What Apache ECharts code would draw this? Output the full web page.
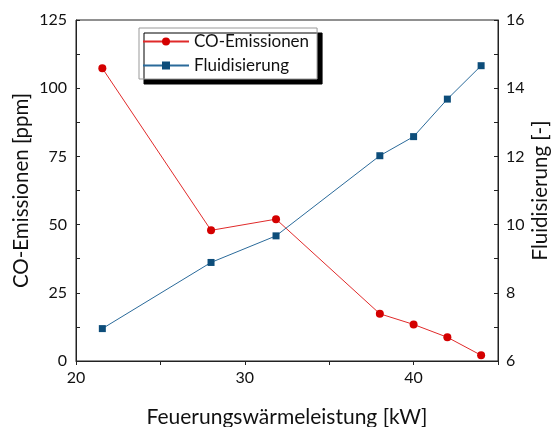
<!DOCTYPE html>
<html><head><meta charset="utf-8">
<script src="https://cdn.jsdelivr.net/npm/echarts@6/dist/echarts.min.js"></script>
<style>html,body{margin:0;padding:0;background:#fff}#c{width:552px;height:427px}</style>
</head><body><div id="c"></div>
<script>
const leistung = [21.56, 28, 31.85, 38, 40, 42, 44];
const coEmissionen = [107.3, 47.9, 52.0, 17.3, 13.4, 8.7, 2.1];
const fluidisierung = [6.95, 8.89, 9.67, 12.02, 12.58, 13.68, 14.66];
const xTickLabels = [20, 30, 40];
const yLeftTickLabels = [0, 25, 50, 75, 100, 125];
const yRightTickLabels = [6, 8, 10, 12, 14, 16];

const FONT = 'Lato';
const AX = '#222';
const chart = echarts.init(document.getElementById('c'), null, {renderer: 'canvas'});
chart.setOption({
  animation: false,
  textStyle: {fontFamily: FONT},
  grid: {left: 76, right: 54, top: 20, bottom: 66, show: true, borderColor: AX, borderWidth: 1,
         containLabel: false, outerBoundsMode: 'none'},
  legend: {
    orient: 'vertical', left: 139, top: 28, padding: [5, 8, 5, 3],
    itemWidth: 46, itemHeight: 10, itemGap: 7,
    backgroundColor: '#fff', borderColor: '#999', borderWidth: 1,
    shadowColor: '#000', shadowOffsetX: 5, shadowOffsetY: 5, shadowBlur: 0,
    textStyle: {fontFamily: FONT, fontSize: 17, color: '#111'},
    data: ['CO-Emissionen', 'Fluidisierung']
  },
  xAxis: {
    type: 'value', min: 20, max: 45, interval: 5,
    name: 'Feuerungswärmeleistung [kW]', nameLocation: 'middle', nameGap: 46, nameMoveOverlap: false,
    nameTextStyle: {fontFamily: FONT, fontSize: 21, color: '#111'},
    axisLine: {show: true, lineStyle: {color: AX, width: 1}},
    axisTick: {show: true, inside: false, length: 4, lineStyle: {color: AX}},
    axisLabel: {fontFamily: FONT, fontSize: 16, color: '#111', margin: 9,
      formatter: v => xTickLabels.indexOf(v) >= 0 ? String(v) : ''},
    splitLine: {show: false}
  },
  yAxis: [{
    type: 'value', min: 0, max: 125, interval: 12.5, position: 'left',
    name: 'CO-Emissionen [ppm]', nameLocation: 'middle', nameGap: 44, nameRotate: 90, nameMoveOverlap: false,
    nameTextStyle: {fontFamily: FONT, fontSize: 20.5, color: '#111'},
    axisLine: {show: true, lineStyle: {color: AX, width: 1}},
    axisTick: {show: true, inside: true, length: 4, lineStyle: {color: AX}},
    axisLabel: {fontFamily: FONT, fontSize: 16, color: '#111', margin: 9,
      formatter: v => yLeftTickLabels.indexOf(v) >= 0 ? String(v) : ''},
    splitLine: {show: false}
  }, {
    type: 'value', min: 6, max: 16, interval: 1, position: 'right',
    name: 'Fluidisierung [-]', nameLocation: 'middle', nameGap: 32, nameRotate: 90, nameMoveOverlap: false,
    nameTextStyle: {fontFamily: FONT, fontSize: 20.5, color: '#111'},
    axisLine: {show: true, lineStyle: {color: AX, width: 1}},
    axisTick: {show: true, inside: true, length: 4, lineStyle: {color: AX}},
    axisLabel: {fontFamily: FONT, fontSize: 16, color: '#111', margin: 8,
      formatter: v => yRightTickLabels.indexOf(v) >= 0 ? String(v) : ''},
    splitLine: {show: false}
  }],
  series: [{
    name: 'CO-Emissionen', type: 'line', yAxisIndex: 0,
    data: leistung.map((x, i) => [x, coEmissionen[i]]),
    symbol: 'circle', symbolSize: 8,
    itemStyle: {color: '#d40000'}, lineStyle: {color: '#e02a2a', width: 1}
  }, {
    name: 'Fluidisierung', type: 'line', yAxisIndex: 1,
    data: leistung.map((x, i) => [x, fluidisierung[i]]),
    symbol: 'rect', symbolSize: 7,
    itemStyle: {color: '#0d4d7a'}, lineStyle: {color: '#2a6a9a', width: 1}
  }]
});
</script></body></html>
